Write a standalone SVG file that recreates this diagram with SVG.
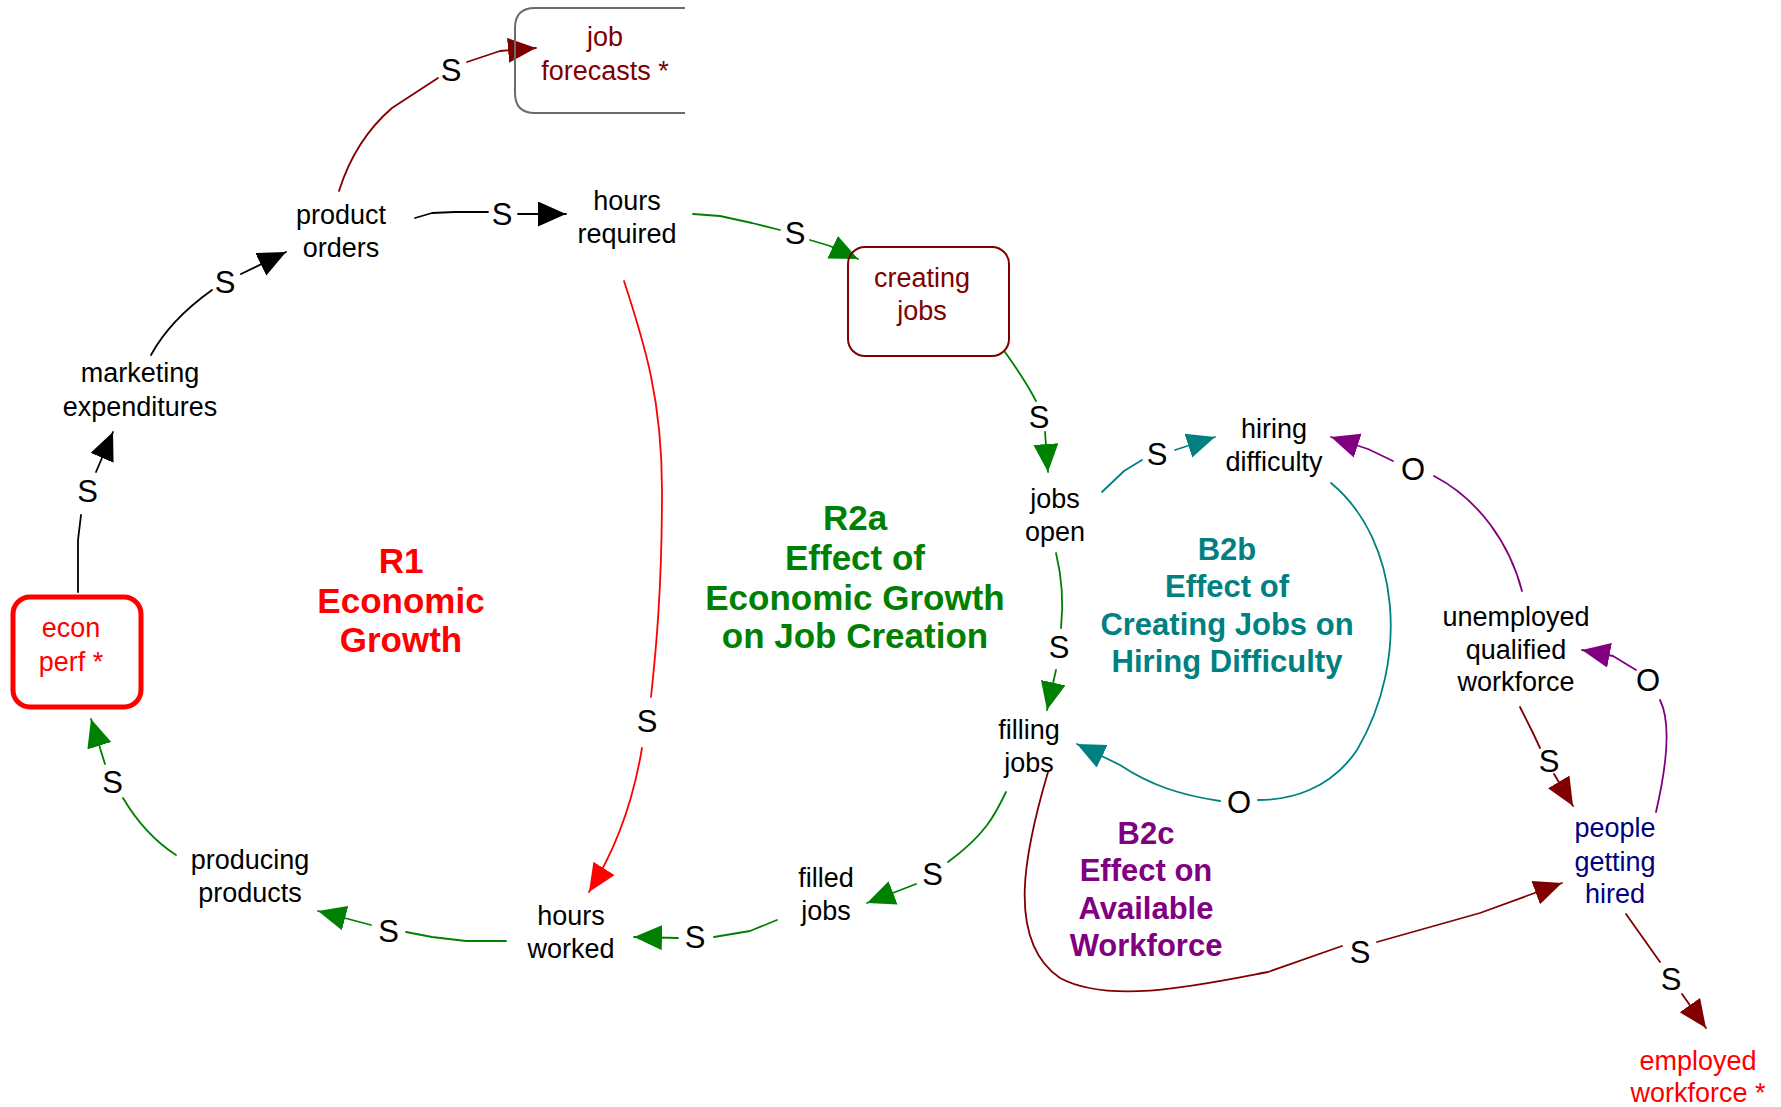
<svg xmlns="http://www.w3.org/2000/svg" width="1781" height="1107" viewBox="0 0 1781 1107">
<defs>
<style>
text{font-family:"Liberation Sans",Arial,sans-serif;text-anchor:middle}
.lbl{font-size:27px;fill:#000}
.pol{font-size:31px;fill:#000}
.loop{font-weight:bold}
.c{fill:none;stroke-width:1.8;stroke-linejoin:round;stroke-linecap:round}
.k{stroke:#000}.dr{stroke:#800000}.g{stroke:#008000}.t{stroke:#008080}.p{stroke:#800080}.r{stroke:#ff0000}
</style>
<marker id="ak" markerUnits="userSpaceOnUse" markerWidth="30" markerHeight="26" refX="28" refY="12.5" orient="auto"><path d="M0,0L28,12.5L0,25z" fill="#000"/></marker>
<marker id="adr" markerUnits="userSpaceOnUse" markerWidth="30" markerHeight="26" refX="28" refY="12.5" orient="auto"><path d="M0,0L28,12.5L0,25z" fill="#800000"/></marker>
<marker id="ag" markerUnits="userSpaceOnUse" markerWidth="30" markerHeight="26" refX="28" refY="12.5" orient="auto"><path d="M0,0L28,12.5L0,25z" fill="#008000"/></marker>
<marker id="at" markerUnits="userSpaceOnUse" markerWidth="30" markerHeight="26" refX="28" refY="12.5" orient="auto"><path d="M0,0L28,12.5L0,25z" fill="#008080"/></marker>
<marker id="ap" markerUnits="userSpaceOnUse" markerWidth="30" markerHeight="26" refX="28" refY="12.5" orient="auto"><path d="M0,0L28,12.5L0,25z" fill="#800080"/></marker>
<marker id="ar" markerUnits="userSpaceOnUse" markerWidth="30" markerHeight="26" refX="28" refY="12.5" orient="auto"><path d="M0,0L28,12.5L0,25z" fill="#ff0000"/></marker>
</defs>
<rect width="1781" height="1107" fill="#fff"/>

<g id="connectors">
<!-- product orders -> job forecasts -->
<path class="c dr" d="M339,191 Q355,140 392,108 L438,78"/>
<path class="c dr" d="M467,62 L500,51 L536,48" marker-end="url(#adr)"/>
<text class="pol" x="451" y="81">S</text>
<!-- product orders -> hours required -->
<path class="c k" d="M415,218 L432,213 L455,212 L488,212"/>
<path class="c k" d="M518,214 L566,214" marker-end="url(#ak)"/>
<text class="pol" x="502" y="224.5">S</text>
<!-- marketing -> product orders -->
<path class="c k" d="M151,355 Q170,320 212,290"/>
<path class="c k" d="M241,274 L286,252" marker-end="url(#ak)"/>
<text class="pol" x="225" y="293">S</text>
<!-- econ perf -> marketing -->
<path class="c k" d="M78,592 L78,540 L81,515"/>
<path class="c k" d="M96,472 L113,432" marker-end="url(#ak)"/>
<text class="pol" x="87.5" y="502">S</text>
<!-- hours required -> creating jobs -->
<path class="c g" d="M693,214 L720,216 L752,223 L780,230"/>
<path class="c g" d="M810,240 L830,246 L858,259" marker-end="url(#ag)"/>
<text class="pol" x="795" y="244">S</text>
<!-- creating jobs -> jobs open -->
<path class="c g" d="M1005,352 Q1025,380 1036,401"/>
<path class="c g" d="M1045,432 L1048,472" marker-end="url(#ag)"/>
<text class="pol" x="1039" y="428">S</text>
<!-- jobs open -> filling jobs -->
<path class="c g" d="M1056,553 Q1065,590 1061,628"/>
<path class="c g" d="M1056,670 L1047,710" marker-end="url(#ag)"/>
<text class="pol" x="1059" y="658">S</text>
<!-- jobs open -> hiring difficulty -->
<path class="c t" d="M1102,492 L1124,471 L1142,460"/>
<path class="c t" d="M1175,450 L1215,437" marker-end="url(#at)"/>
<text class="pol" x="1157" y="465">S</text>
<!-- hiring difficulty -> filling jobs -->
<path class="c t" d="M1331,483 C1400,540 1410,660 1357,750 C1330,790 1290,800 1258,800"/>
<path class="c t" d="M1220,801 C1180,795 1150,785 1120,765 L1077,744" marker-end="url(#at)"/>
<text class="pol" x="1239" y="813">O</text>
<!-- unemployed -> hiring difficulty -->
<path class="c p" d="M1522,591 C1510,545 1480,500 1434,476"/>
<path class="c p" d="M1393,461 L1368,449 L1331,437" marker-end="url(#ap)"/>
<text class="pol" x="1413" y="480">O</text>
<!-- people getting hired -> unemployed -->
<path class="c p" d="M1656,812 C1668,760 1670,720 1660,700"/>
<path class="c p" d="M1636,670 L1613,656 L1582,650" marker-end="url(#ap)"/>
<text class="pol" x="1648" y="691">O</text>
<!-- unemployed -> people getting hired -->
<path class="c dr" d="M1520,707 L1533,733 L1540,748"/>
<path class="c dr" d="M1554,774 L1573,806" marker-end="url(#adr)"/>
<text class="pol" x="1549" y="772">S</text>
<!-- filling jobs -> people getting hired -->
<path class="c dr" d="M1048,772 C1025,850 1005,940 1060,978 C1110,1005 1200,985 1268,972 L1342,946"/>
<path class="c dr" d="M1377,942 L1480,913 L1562,883" marker-end="url(#adr)"/>
<text class="pol" x="1360" y="963">S</text>
<!-- people getting hired -> employed workforce -->
<path class="c dr" d="M1626,914 L1660,962"/>
<path class="c dr" d="M1682,994 L1706,1028" marker-end="url(#adr)"/>
<text class="pol" x="1671" y="990">S</text>
<!-- hours required -> hours worked -->
<path class="c r" d="M624,281 C645,345 662,400 662,490 C662,590 656,650 651,697"/>
<path class="c r" d="M642,748 C635,790 622,840 589,892" marker-end="url(#ar)"/>
<text class="pol" x="647" y="732">S</text>
<!-- filling jobs -> filled jobs -->
<path class="c g" d="M1006,792 C995,815 985,835 948,862"/>
<path class="c g" d="M916,884 L867,903" marker-end="url(#ag)"/>
<text class="pol" x="932.5" y="884.5">S</text>
<!-- filled jobs -> hours worked -->
<path class="c g" d="M777,920 L750,931 L714,937"/>
<path class="c g" d="M678,938 L634,937" marker-end="url(#ag)"/>
<text class="pol" x="695" y="948">S</text>
<!-- hours worked -> producing products -->
<path class="c g" d="M506,941 L466,941 L432,937 L406,932"/>
<path class="c g" d="M371,925 L318,911" marker-end="url(#ag)"/>
<text class="pol" x="388.5" y="942">S</text>
<!-- producing products -> econ perf -->
<path class="c g" d="M176,855 Q145,835 123,798"/>
<path class="c g" d="M105,764 L91,719" marker-end="url(#ag)"/>
<text class="pol" x="112.5" y="792.5">S</text>
</g>

<g id="job-forecasts">
<path d="M685,8 H535 Q515,8 515,28 V93 Q515,113 535,113 H685" fill="none" stroke="#6b6b6b" stroke-width="2"/>
<text class="lbl" x="605" y="46" style="fill:#800000">job</text>
<text class="lbl" x="605" y="80" style="fill:#800000">forecasts *</text>
</g>
<g id="product-orders">
<text class="lbl" x="341" y="224">product</text>
<text class="lbl" x="341" y="257">orders</text>
</g>
<g id="hours-required">
<text class="lbl" x="627" y="210">hours</text>
<text class="lbl" x="627" y="243">required</text>
</g>
<g id="creating-jobs">
<rect x="848" y="247" width="161" height="109" rx="17" fill="none" stroke="#800000" stroke-width="2"/>
<text class="lbl" x="922" y="287" style="fill:#800000">creating</text>
<text class="lbl" x="922" y="320" style="fill:#800000">jobs</text>
</g>
<g id="marketing-expenditures">
<text class="lbl" x="140" y="382">marketing</text>
<text class="lbl" x="140" y="416">expenditures</text>
</g>
<g id="econ-perf">
<rect x="13" y="597" width="128" height="110" rx="17" fill="none" stroke="#ff0000" stroke-width="5"/>
<text class="lbl" x="71" y="637" style="fill:#ff0000">econ</text>
<text class="lbl" x="71" y="671" style="fill:#ff0000">perf *</text>
</g>
<g id="producing-products">
<text class="lbl" x="250" y="869">producing</text>
<text class="lbl" x="250" y="902">products</text>
</g>
<g id="hours-worked">
<text class="lbl" x="571" y="925">hours</text>
<text class="lbl" x="571" y="958">worked</text>
</g>
<g id="filled-jobs">
<text class="lbl" x="826" y="887">filled</text>
<text class="lbl" x="826" y="920">jobs</text>
</g>
<g id="filling-jobs">
<text class="lbl" x="1029" y="739">filling</text>
<text class="lbl" x="1029" y="772">jobs</text>
</g>
<g id="jobs-open">
<text class="lbl" x="1055" y="508">jobs</text>
<text class="lbl" x="1055" y="541">open</text>
</g>
<g id="hiring-difficulty">
<text class="lbl" x="1274" y="438">hiring</text>
<text class="lbl" x="1274" y="471">difficulty</text>
</g>
<g id="unemployed-qualified-workforce">
<text class="lbl" x="1516" y="626">unemployed</text>
<text class="lbl" x="1516" y="659">qualified</text>
<text class="lbl" x="1516" y="691">workforce</text>
</g>
<g id="people-getting-hired">
<text class="lbl" x="1615" y="837" style="fill:#000080">people</text>
<text class="lbl" x="1615" y="871" style="fill:#000080">getting</text>
<text class="lbl" x="1615" y="903" style="fill:#000080">hired</text>
</g>
<g id="employed-workforce">
<text class="lbl" x="1698" y="1070" style="fill:#ff0000">employed</text>
<text class="lbl" x="1698" y="1102" style="fill:#ff0000">workforce *</text>
</g>

<g id="loop-R1" class="loop" font-size="35" fill="#ff0000">
<text x="401" y="573">R1</text>
<text x="401" y="613">Economic</text>
<text x="401" y="652">Growth</text>
</g>
<g id="loop-R2a" class="loop" font-size="35" fill="#008000">
<text x="855" y="530">R2a</text>
<text x="855" y="570">Effect of</text>
<text x="855" y="610">Economic Growth</text>
<text x="855" y="648">on Job Creation</text>
</g>
<g id="loop-B2b" class="loop" font-size="31" fill="#008080">
<text x="1227" y="560">B2b</text>
<text x="1227" y="597">Effect of</text>
<text x="1227" y="635">Creating Jobs on</text>
<text x="1227" y="672">Hiring Difficulty</text>
</g>
<g id="loop-B2c" class="loop" font-size="31" fill="#800080">
<text x="1146" y="844">B2c</text>
<text x="1146" y="881">Effect on</text>
<text x="1146" y="919">Available</text>
<text x="1146" y="956">Workforce</text>
</g>
</svg>
